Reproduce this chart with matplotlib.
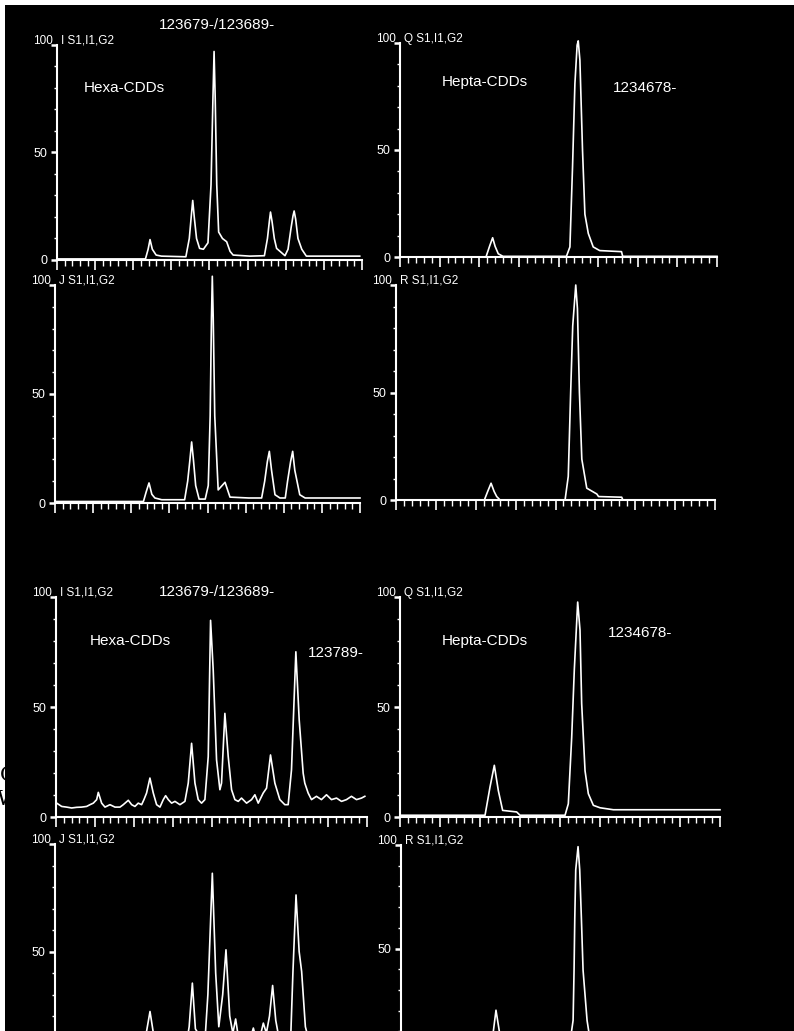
import matplotlib
matplotlib.use('Agg')
import matplotlib.pyplot as plt
from matplotlib.patches import Rectangle

plt.rcParams['font.family'] = ['Liberation Sans', 'DejaVu Sans']

# traces: retention axis 0-40 (scan units), intensity in % of full scale
# Hexa-CDDs, ion I (upper sample)
p1_x = [0, 11.6, 11.95, 12.2, 12.5, 13.0, 13.7, 16.9, 17.35, 17.6, 17.8, 18.0, 18.3, 18.7, 19.2,
        19.8, 20.2, 20.45, 20.6, 20.75, 20.95, 21.2, 21.7, 22.25, 22.7, 23.1, 25.3, 27.2, 27.6,
        27.85, 28.0, 28.2, 28.5, 28.8, 29.9, 30.3, 30.7, 30.95, 31.1, 31.3, 31.6, 32.1, 32.7, 39.7]
p1_y = [0.5, 0.5, 5, 9.5, 5, 2.3, 1.8, 1.5, 10, 20, 27.7, 20, 10, 5.4, 5,
        8, 35, 75, 97, 75, 35, 13, 10, 8.5, 4, 2.3, 1.8, 2, 10,
        18, 22.3, 18, 10, 5.4, 2, 5, 15, 20.5, 22.8, 19, 10, 5, 1.8, 1.8]
# Hexa-CDDs, ion J (upper sample)
p2_x = [0, 11.6, 11.95, 12.33, 12.7, 13.1, 14.0, 17.0, 17.4, 17.7, 17.92, 18.15, 18.45, 18.9, 19.7,
        20.1, 20.35, 20.52, 20.63, 20.75, 20.95, 21.4, 22.3, 22.95, 25.4, 27.1, 27.5, 27.85, 28.11,
        28.4, 28.85, 29.5, 30.2, 30.5, 30.9, 31.17, 31.45, 32.1, 32.8, 40]
p2_y = [0.7, 0.7, 5, 9.2, 4, 2.3, 1.5, 1.5, 10, 20, 28, 20, 8, 1.8, 1.8,
        8, 40, 85, 104, 85, 40, 6, 9.5, 2.7, 2.3, 2.3, 10, 19, 23.7,
        15, 3.8, 2.3, 2.3, 10, 19, 23.7, 15, 3.8, 2.3, 2.3]
# Hepta-CDDs, ion Q (upper sample)
p3_x = [0, 10.85, 11.3, 11.69, 12.0, 12.4, 13.0, 21.0, 21.44, 21.77, 22.07, 22.35, 22.49, 22.7,
        23.03, 23.33, 23.76, 24.38, 25.2, 27.95, 28.1, 40]
p3_y = [0, 0, 5, 9, 5, 1.5, 0.3, 0.3, 4.7, 42, 81, 99, 101, 92,
        50, 20, 11, 4.7, 3, 2.5, 0.3, 0.3]
# Hepta-CDDs, ion R (upper sample)
p4_x = [0, 11.08, 11.5, 11.92, 12.3, 12.63, 13.05, 21.2, 21.6, 21.9, 22.16, 22.54, 22.75, 23.0,
        23.3, 23.92, 25.18, 25.4, 28.3, 28.45, 40]
p4_y = [0, 0, 4, 7.8, 4, 1.6, 0, 0, 11, 50, 81, 100, 89, 50,
        19, 5.5, 2.8, 1.6, 1.3, 0, 0]
# Hexa-CDDs, ion I (lower sample, noisy)
p5_x = [0.09, 0.73, 1.37, 2.01, 2.66, 3.30, 3.94, 4.37, 4.80, 5.23, 5.44, 5.87, 6.30, 6.94, 7.58,
        8.23, 8.65, 9.30, 9.73, 10.15, 10.58, 11.01, 11.31, 11.65, 12.08, 12.51, 12.94, 13.37,
        13.80, 14.10, 14.44, 14.87, 15.30, 15.94, 16.58, 17.01, 17.44, 17.87, 18.29, 18.72, 19.15,
        19.58, 19.88, 20.22, 20.65, 21.08, 21.29, 21.72, 22.15, 22.58, 23.01, 23.44, 23.86, 24.51,
        25.15, 25.58, 26.01, 26.65, 27.08, 27.59, 28.15, 28.79, 29.43, 29.86, 30.29, 30.85, 31.28,
        31.79, 32.0, 32.43, 32.86, 33.50, 34.14, 34.79, 35.43, 36.08, 36.72, 37.36, 38.0, 38.65,
        39.29, 39.72]
p5_y = [6.3, 4.8, 4.5, 4.1, 4.4, 4.5, 4.8, 5.6, 6.3, 7.9, 11.2, 6.3, 4.5, 5.6, 4.5,
        4.5, 5.6, 7.6, 5.6, 4.8, 6.3, 5.6, 7.9, 10.9, 17.7, 10.9, 5.6, 4.5,
        7.9, 9.7, 7.9, 6.3, 7.1, 5.6, 7.1, 15.4, 33.5, 15.4, 7.9, 6.3, 7.9,
        27.5, 89.4, 66.8, 26.0, 12.4, 15.4, 47.1, 27.5, 12.4, 7.9, 7.1, 8.6, 6.3,
        7.9, 10.1, 6.3, 10.9, 13.1, 28.2, 15.4, 7.9, 5.6, 5.6, 21.5, 75.1, 44.1,
        19.9, 15.4, 10.9, 7.9, 9.4, 7.9, 10.1, 7.9, 8.6, 7.1, 7.9, 9.4, 7.9,
        8.6, 9.4]
# Hexa-CDDs, ion J (lower sample, cut off by the page edge)
p6_x = [0, 2, 4, 5.4, 7, 9, 11.0, 11.6, 12.18, 12.7, 14.1, 16.8, 17.2, 17.61, 18.0, 19.2, 19.6,
        20.17, 20.6, 21.0, 21.5, 21.92, 22.4, 22.8, 23.16, 23.6, 25.0, 25.43, 25.8, 26.4, 26.71,
        27.1, 27.5, 27.9, 28.3, 28.8, 30.2, 30.5, 30.9, 31.3, 31.62, 32.1, 32.6, 34, 36, 38, 40]
p6_y = [6, 5, 6, 9, 5, 6, 6, 10, 22.1, 10, 8, 6, 15, 35.3, 14, 7, 30,
        86.4, 40, 15, 30, 50.8, 20, 12, 18.6, 8, 9, 14.4, 9, 12, 16.7,
        12, 20, 34.2, 18, 8, 8, 40, 76.3, 50, 40.7, 15, 8, 7, 8, 7, 8]
# Hepta-CDDs, ion Q (lower sample)
p7_x = [0, 10.0, 10.63, 11.25, 11.79, 12.29, 12.83, 14.58, 15.0, 20.63, 21.04, 21.46, 21.79,
        22.21, 22.5, 22.71, 23.13, 23.54, 24.17, 25.0, 26.67, 40]
p7_y = [0.8, 0.8, 0.8, 13.6, 23.5, 12, 3, 2.3, 0.8, 0.8, 6, 36, 67,
        97.7, 85, 51.5, 21, 10.6, 5.3, 4.2, 3.3, 3.3]
# Hepta-CDDs, ion R (lower sample, cut off by the page edge)
p8_x = [0, 10.8, 11.3, 11.58, 11.91, 12.33, 12.8, 13.5, 20.6, 21.2, 21.58, 21.70, 21.79, 21.91,
        22.2, 22.41, 22.62, 22.83, 23.33, 23.54, 24.2, 25.0, 26.7, 40]
p8_y = [0.8, 0.8, 4, 10, 20.2, 10, 3, 2.3, 0.8, 5, 15.3, 39.5, 64.5, 88,
        99.2, 88, 64.5, 39.5, 15.3, 10, 5.3, 4.2, 3.3, 3.3]

headers = ['I S1,I1,G2', 'J S1,I1,G2', 'Q S1,I1,G2', 'R S1,I1,G2',
           'I S1,I1,G2', 'J S1,I1,G2', 'Q S1,I1,G2', 'R S1,I1,G2']

W, H = 794, 1031
fig = plt.figure(figsize=(W / 100, H / 100), dpi=100, facecolor='white')

# black photo area with thin white margin top/left
fig.patches.append(Rectangle((5 / W, 0), 1, 1 - 5 / H, transform=fig.transFigure,
                             facecolor='black', edgecolor='none', zorder=-10))


def panel(box, xs, ys, header, show_zero=True):
    # box = (left px, right px, y px of 0 %, y px of 100 %)
    x0, x1, y0, y100 = box
    ax = fig.add_axes([x0 / W, 1 - y0 / H, (x1 - x0) / W, (y0 - y100) / H])
    ax.set_facecolor('none')
    ax.plot(xs, ys, color='white', lw=1.2, clip_on=False)
    ax.set_xlim(0, 40)
    ax.set_ylim(0, 100)
    for s in ['top', 'right']:
        ax.spines[s].set_visible(False)
    for s in ['left', 'bottom']:
        ax.spines[s].set_color('white')
        ax.spines[s].set_linewidth(1.5)
    ax.set_xticks(range(0, 41, 5))
    ax.set_xticks(range(0, 41), minor=True)
    ax.set_xticklabels([])
    ax.set_yticks([0, 50, 100])
    ax.set_yticks(range(0, 101, 10), minor=True)
    ax.set_yticklabels(['0' if show_zero else '', '50', ''])
    ax.tick_params(axis='x', which='major', length=7, width=1.2, colors='white')
    ax.tick_params(axis='x', which='minor', length=4, width=1.0, colors='white')
    ax.tick_params(axis='y', which='major', length=4, width=1.8, colors='white',
                   labelsize=9, pad=3)
    ax.tick_params(axis='y', which='minor', length=2, width=1.0, colors='white')
    ax.annotate('100', xy=(0, 100), xycoords=('axes fraction', 'data'), xytext=(-3, 3),
                textcoords='offset points', ha='right', va='center', color='white', fontsize=8.5)
    ax.annotate(header, xy=(0, 100), xycoords=('axes fraction', 'data'), xytext=(3, 3),
                textcoords='offset points', ha='left', va='center', color='white', fontsize=8.5)
    return ax


panel((57, 362, 260, 45), p1_x, p1_y, headers[0])
panel((55, 360, 503, 285), p2_x, p2_y, headers[1])
panel((400, 717, 257, 43), p3_x, p3_y, headers[2])
panel((396, 715, 500, 285), p4_x, p4_y, headers[3])
panel((56, 367, 817, 597), p5_x, p5_y, headers[4])
panel((55, 367, 1059, 844), p6_x, p6_y, headers[5], show_zero=False)
panel((400, 720, 817, 597), p7_x, p7_y, headers[6])
panel((401, 720, 1052, 845), p8_x, p8_y, headers[7], show_zero=False)


def label(x, y, s):
    fig.text(x / W, 1 - y / H, s, ha='center', va='center', color='white', fontsize=11)


label(217, 25, '123679-/123689-')
label(124, 88, 'Hexa-CDDs')
label(485, 82, 'Hepta-CDDs')
label(645, 88, '1234678-')
label(217, 592, '123679-/123689-')
label(130, 641, 'Hexa-CDDs')
label(336, 653, '123789-')
label(485, 641, 'Hepta-CDDs')
label(640, 633, '1234678-')

# bit of the neighbouring page text showing at the left edge
notch = fig.add_axes([0, 1 - 815 / H, 9 / W, 63 / H])
notch.set_facecolor('white')
notch.axis('off')
notch.patch.set_visible(True)
notch.text(0.0, 0.63, 'C', ha='left', va='center', family='DejaVu Serif', fontsize=15,
           color='black', clip_on=True)
notch.text(-0.3, 0.24, 'W', ha='left', va='center', family='DejaVu Serif', fontsize=15,
           color='black', clip_on=True)

fig.savefig('out.png', dpi=100, facecolor=fig.get_facecolor())
